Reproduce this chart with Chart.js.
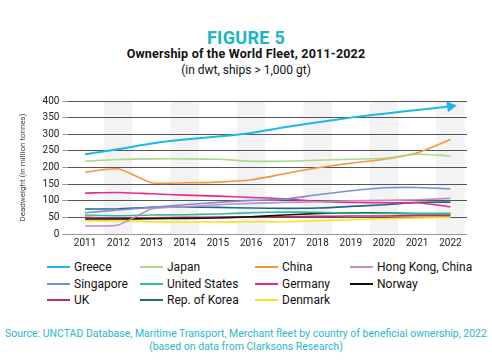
<!DOCTYPE html>
<html><head><meta charset="utf-8">
<script src="https://cdn.jsdelivr.net/npm/chart.js@4/dist/chart.umd.min.js"></script>
<style>
html,body{margin:0;padding:0;background:#fff;width:492px;height:364px;overflow:hidden;font-family:Roboto,"Noto Sans",sans-serif;}
#t1{position:absolute;top:27px;left:0;width:492px;text-align:center;color:#19b6c4;font-weight:bold;font-size:18px;letter-spacing:0.3px;}
#t2{position:absolute;top:46px;left:0;width:492px;text-align:center;color:#111;font-weight:bold;font-size:12.5px;letter-spacing:0.2px;}
#t3{position:absolute;top:63px;left:0;width:492px;text-align:center;color:#111;font-size:12px;}
#wrap{position:absolute;top:92px;left:0;width:480px;height:160px;}
#legend{position:absolute;top:259px;left:0;width:492px;font-size:12px;color:#111;}
.li{position:absolute;height:16px;line-height:16px;white-space:nowrap;}
.li span.sw{display:inline-block;width:23px;height:2px;vertical-align:middle;margin-right:4px;position:relative;top:-1px;}
#src{position:absolute;top:327px;left:0;width:492px;text-align:center;color:#2bb7c9;font-size:10.5px;line-height:13px;}
</style></head><body>
<div id="t1">FIGURE 5</div>
<div id="t2">Ownership of the World Fleet, 2011-2022</div>
<div id="t3">(in dwt, ships &gt; 1,000 gt)</div>
<div id="wrap"><canvas id="c"></canvas></div>
<div id="legend"></div>
<div id="src">Source: UNCTAD Database, Maritime Transport, Merchant fleet by country of beneficial ownership, 2022<br>(based on data from Clarksons Research)</div>
<script>
const years = ["2011","2012","2013","2014","2015","2016","2017","2018","2019","2020","2021","2022"];
const yTicks = [0,50,100,150,200,250,300,350,400];
const greece    = [240,255,272,284,293,304,321,336,350,362,373,384];
const japan     = [219,224,226,226,225,219,219,222,225,228,240,235];
const china     = [186,196,154,154,156,163,181,199,213,225,244,284];
const hongKong  = [24,27,75,82,88,92,95,97,100,101,103,107];
const singapore = [64,72,80,88,95,101,105,118,130,139,140,136];
const us        = [57,55,57,58,60,64,66,65,63,62,62,62];
const germany   = [123,125,121,117,114,110,106,98,95,94,94,82];
const norway    = [45,45,46,47,48,52,57,62,64,63,61,61];
const uk        = [50,48,49,50,51,52,52,53,54,54,55,55];
const korea     = [75,76,80,81,80,78,77,78,83,88,95,96];
const denmark   = [40,39,37,36,36,37,37,40,43,46,48,50];

const series = [
 {label:"Greece", data:greece, color:"#1ab9ec"},
 {label:"Japan", data:japan, color:"#a9d98c"},
 {label:"China", data:china, color:"#f7953b"},
 {label:"Hong Kong, China", data:hongKong, color:"#c48dc6"},
 {label:"Singapore", data:singapore, color:"#7a8ed6"},
 {label:"United States", data:us, color:"#2dbd9f"},
 {label:"Germany", data:germany, color:"#ec2a8a"},
 {label:"Norway", data:norway, color:"#111111"},
 {label:"UK", data:uk, color:"#c62a5c"},
 {label:"Rep. of Korea", data:korea, color:"#1c6888"},
 {label:"Denmark", data:denmark, color:"#f8e31a"}
];

const bandsUnder = {
  id:'bandsUnder',
  beforeDraw(chart){
    const {ctx, chartArea, scales:{x}} = chart;
    ctx.save();
    ctx.fillStyle = '#f3f3f3';
    const w = (x.getPixelForValue(1)-x.getPixelForValue(0))*0.85;
    years.forEach((y,i)=>{
      if(i%2===1){
        const cx = x.getPixelForValue(i);
        ctx.fillRect(cx-w/2, chartArea.top, w, chartArea.bottom-chartArea.top);
      }
    });
    ctx.restore();
  }
};

const datasets = series.map((s,k)=>({
  label:s.label, data:s.data, borderColor:s.color, backgroundColor:s.color,
  borderWidth:k===0?2:1.6, tension:0.2, fill:false,
  pointRadius: k===0 ? s.data.map((v,i)=> i===s.data.length-1 ? 4.5 : 0) : 0,
  pointStyle:'triangle', pointRotation: 82, pointHoverRadius:0,
  order: k
}));

new Chart(document.getElementById('c'),{
  type:'line',
  data:{labels:years, datasets:datasets},
  options:{
    responsive:true, maintainAspectRatio:false, animation:false,
    layout:{padding:{left:10,right:13,top:2,bottom:0}},
    plugins:{legend:{display:false}, tooltip:{enabled:false}},
    scales:{
      x:{offset:true, grid:{display:false, drawTicks:false}, border:{display:false},
         ticks:{color:'#222', font:{size:10, family:'Roboto'}, padding:3}},
      y:{min:0, max:400, afterBuildTicks(ax){ax.ticks = yTicks.map(v=>({value:v}));},
         border:{display:false},
         grid:{color:(c)=> c.tick.value===0 ? '#9a9a9a' : '#555', lineWidth:1, tickLength:6, tickColor:'#999'},
         ticks:{color:'#222', font:{size:10, family:'Roboto'}, padding:3},
         title:{display:true, text:'Deadweight (in million tonnes)', color:'#444', font:{size:8, family:'Roboto'}, padding:{top:8,bottom:12}}}
    }
  },
  plugins:[bandsUnder]
});

const cols=[47,140,255,350];
const rows=[0,17,33];
const lg=document.getElementById('legend');
series.forEach((s,i)=>{
  const d=document.createElement('div');
  d.className='li';
  d.style.left=cols[i%4]+'px';
  d.style.top=rows[Math.floor(i/4)]+'px';
  d.innerHTML='<span class="sw" style="background:'+s.color+'"></span>'+s.label;
  lg.appendChild(d);
});
</script>
</body></html>
